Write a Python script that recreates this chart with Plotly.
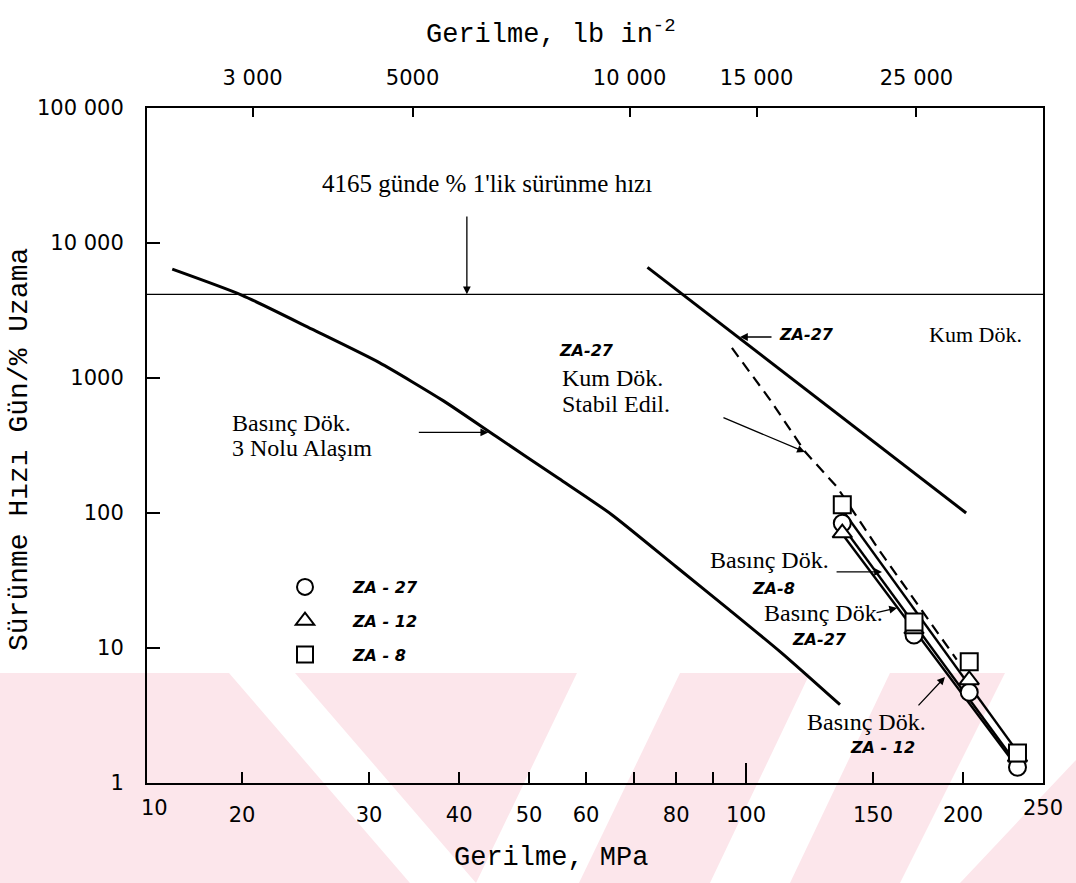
import numpy as np
import plotly.graph_objects as go

# ---- axis limits -------------------------------------------------------
X_MIN, X_MAX = 14.76, 258.2          # stress, MPa (log axis)
Y_MIN, Y_MAX = 1, 100000             # creep rate, days per % elongation
PSI_PER_MPA = 145.038
RATE_1PCT = 4165                     # 1 % creep in 4165 days

# ---- die-cast No.3 alloy ----------------------------------------------
no3_stress = [16, 20, 25, 31, 38, 45, 55, 65, 80, 95, 112, 135]
no3_rate = [6400, 4100, 2300, 1300, 680, 370, 180, 98, 40, 19, 9.2, 3.8]

# ---- sand-cast ZA-27 ---------------------------------------------------
sand_stress = [73, 202]
sand_rate = [6600, 100]

# ---- sand-cast ZA-27, stabilised (dashed) ------------------------------
stab_stress = [95.6, 108, 120.7, 133.7, 153, 196]
stab_rate = [1670, 690, 285, 156, 53, 8.2]

# ---- die-cast ZA alloys: measured points -------------------------------
pt_stress = [136, 171, 204, 238]
za27_rate = [84, 12.5, 4.7, 1.31]
za12_rate = [71, 13.8, 5.8, 1.56]
za8_rate = [115, 15.6, 7.9, 1.67]

# ---- die-cast ZA alloys: fitted lines ----------------------------------
za8_fit_stress, za8_fit_rate = [137, 238], [100, 1.7]
za27_fit_stress, za27_fit_rate = [136, 236], [80, 1.45]
za12_fit_stress, za12_fit_rate = [136, 238], [70, 1.3]

# ---- tick labels -------------------------------------------------------
mpa_ticks = [20, 30, 40, 50, 60, 80, 100, 150, 200]
mpa_text = ["20", "30", "40", "50", "60", "80", "100", "150", "200"]
mpa_unlabelled = [70, 90]
mpa_long = [100]
psi_ticks = [3000, 5000, 10000, 15000, 25000]
psi_text = ["3 000", "5000", "10 000", "15 000", "25 000"]
rate_ticks = [1, 10, 100, 1000, 10000, 100000]
rate_text = ["1", "10", "100", "1000", "10 000", "100 000"]

W, H = 1076, 883
ML, MR, MT, MB = 147, 33, 108, 100
PW, PH = W - ML - MR, H - MT - MB

SERIF = "Liberation Serif"
MONO = "Liberation Mono"
SANS = "DejaVu Sans"


def lg(v):
    return float(np.log10(v))


def paper(px, py):
    return (px - ML) / PW, (H - MB - py) / PH


fig = go.Figure()

# curves
line_kw = dict(mode="lines", showlegend=False, hoverinfo="skip")
fig.add_trace(go.Scatter(x=no3_stress, y=no3_rate,
                         line=dict(color="black", width=3, shape="spline", smoothing=0.6), **line_kw))
# sand-cast line sits on the unlabelled tick axis (same MPa scale)
fig.add_trace(go.Scatter(x=sand_stress, y=sand_rate, xaxis="x3",
                         line=dict(color="black", width=3), **line_kw))
fig.add_trace(go.Scatter(x=stab_stress, y=stab_rate,
                         line=dict(color="black", width=2.2, dash="11px,7px"), **line_kw))
for fx, fy in [(za8_fit_stress, za8_fit_rate), (za27_fit_stress, za27_fit_rate),
               (za12_fit_stress, za12_fit_rate)]:
    fig.add_trace(go.Scatter(x=fx, y=fy, line=dict(color="black", width=2.4), **line_kw))

# 1 % in 4165 days reference line, drawn on the lb/in^2 axis
fig.add_trace(go.Scatter(x=[X_MIN * PSI_PER_MPA, X_MAX * PSI_PER_MPA], y=[RATE_1PCT, RATE_1PCT],
                         xaxis="x2", mode="lines", line=dict(color="black", width=1.3),
                         showlegend=False, hoverinfo="skip"))

# measured points
for name, rates, sym in [("ZA - 27", za27_rate, "circle"),
                         ("ZA - 12", za12_rate, "triangle-up"),
                         ("ZA - 8", za8_rate, "square")]:
    fig.add_trace(go.Scatter(x=pt_stress, y=rates, mode="markers", name=name, legendgroup=name,
                             marker=dict(symbol=sym, size=17, color="white",
                                         line=dict(color="black", width=2)),
                             hoverinfo="skip"))

ann = []


def text(x, y, s, size=24, family=SERIF, style="normal", weight="normal", xanchor="left"):
    ann.append(dict(x=lg(x), y=lg(y), xref="x", yref="y", text=s, showarrow=False,
                    xanchor=xanchor, yanchor="middle", align="left",
                    font=dict(family=family, size=size, color="black", style=style, weight=weight)))


def arrow(x0, y0, x1, y1):
    ann.append(dict(x=lg(x1), y=lg(y1), ax=lg(x0), ay=lg(y0), xref="x", yref="y",
                    axref="x", ayref="y", text="", showarrow=True, arrowhead=2,
                    arrowsize=1.2, arrowwidth=1.3, arrowcolor="black", standoff=0))


ital = dict(family=SANS, size=16, style="italic", weight="bold")

text(43.7, 27800, "4165 günde % 1'lik sürünme hızı", size=25, xanchor="center")
arrow(41.0, 16100, 41.0, RATE_1PCT)

text(19.25, 464, "Basınç Dök.")
text(19.25, 303, "3 Nolu Alaşım")
arrow(35.0, 395, 43.9, 395)

text(110.4, 2083, "ZA-27", **ital)
text(178.3, 2083, "Kum Dök.", size=22)
arrow(109, 2012, 98.1, 2012)

text(54.7, 1612, "ZA-27", **ital)
text(55.2, 1000, "Kum Dök.")
text(55.2, 642, "Stabil Edil.")
arrow(92.6, 514, 120.7, 283)

text(88.6, 44.8, "Basınç Dök.")
text(101.3, 27.8, "ZA-8", **ital)
arrow(132.9, 36.6, 154.4, 36.6)

text(105.2, 18.2, "Basınç Dök.")
text(115.1, 11.5, "ZA-27", **ital)
arrow(151, 18.2, 162, 19.8)

text(120.7, 2.83, "Basınç Dök.")
text(138.5, 1.82, "ZA - 12", **ital)
arrow(172.7, 3.66, 188.8, 6.1)

# corner labels of the MPa axis
tick_font = dict(family=SANS, size=21, color="black")
for xd, s, dx in [(0, "10", 7), (1, "250", 0)]:
    ann.append(dict(x=xd, y=0, xref="x domain", yref="y domain", yshift=-25, xshift=dx, text=s,
                    showarrow=False, xanchor="center", yanchor="middle", font=tick_font))

# axis titles
tx, _ = paper(551, 0)
ann.append(dict(x=tx, y=paper(0, 33)[1], xref="paper", yref="paper", showarrow=False,
                xanchor="center", yanchor="middle",
                text="Gerilme, lb in<sup>-2</sup>", font=dict(family=MONO, size=27, color="black")))
ann.append(dict(x=tx, y=paper(0, 858)[1], xref="paper", yref="paper", showarrow=False,
                xanchor="center", yanchor="middle",
                text="Gerilme, MPa", font=dict(family=MONO, size=27, color="black")))
ann.append(dict(x=paper(20, 0)[0], y=paper(0, 450)[1], xref="paper", yref="paper", showarrow=False,
                xanchor="center", yanchor="middle",
                text="Sürünme Hızı Gün/% Uzama", textangle=-90,
                font=dict(family=MONO, size=28, color="black")))

# pale diagonal watermark along the bottom
PINK = "#fce6eb"
shapes = []


def poly(pts, color):
    p = [paper(a, b) for a, b in pts]
    path = "M " + " L ".join(f"{u:.4f},{v:.4f}" for u, v in p) + " Z"
    shapes.append(dict(type="path", path=path, xref="paper", yref="paper",
                       fillcolor=color, line=dict(width=0), layer="below"))


poly([(0, 673), (W, 673), (W, H), (0, H)], PINK)
poly([(229, 673), (295, 673), (476, H), (410, H)], "white")
poly([(577, 673), (680, 673), (579, H), (476, H)], "white")
poly([(810, 673), (890, 673), (790, H), (710, H)], "white")
poly([(1005, 673), (W, 673), (W, 760), (960, H), (900, H)], "white")

axis_common = dict(showline=True, linecolor="black", linewidth=2, showgrid=False,
                   zeroline=False, ticks="inside", tickcolor="black", tickwidth=1.5,
                   tickfont=tick_font)

fig.update_layout(
    width=W, height=H,
    margin=dict(l=ML, r=MR, t=MT, b=MB, pad=0),
    paper_bgcolor="white", plot_bgcolor="rgba(0,0,0,0)",
    hovermode=False,
    xaxis=dict(type="log", range=[lg(X_MIN), lg(X_MAX)], tickmode="array",
               tickvals=mpa_ticks, ticktext=mpa_text, ticklen=11, mirror=True,
               ticklabelstandoff=12, **axis_common),
    # unlabelled MPa ticks (70, 90) and the longer 100 tick
    xaxis3=dict(type="log", overlaying="x", side="bottom", anchor="y",
                range=[lg(X_MIN), lg(X_MAX)], tickmode="array", tickvals=mpa_long,
                ticklen=20, showticklabels=False, showline=False, showgrid=False,
                zeroline=False, ticks="inside", tickcolor="black", tickwidth=1.5,
                minor=dict(tickmode="array", tickvals=mpa_unlabelled, ticks="inside",
                           ticklen=11, tickcolor="black", tickwidth=1.5, showgrid=False)),
    xaxis2=dict(type="log", overlaying="x", side="top", anchor="y",
                range=[lg(X_MIN * PSI_PER_MPA), lg(X_MAX * PSI_PER_MPA)],
                tickmode="array", tickvals=psi_ticks, ticktext=psi_text, ticklen=9,
                ticklabelstandoff=13, **axis_common),
    yaxis=dict(type="log", range=[lg(Y_MIN), lg(Y_MAX)], tickmode="array",
               tickvals=rate_ticks, ticktext=rate_text, ticklen=13, mirror=True,
               ticklabelstandoff=17, **axis_common),
    legend=dict(x=paper(257, 0)[0], y=paper(0, 570)[1], xanchor="left", yanchor="top",
                bgcolor="rgba(0,0,0,0)", borderwidth=0, tracegroupgap=10, itemwidth=86,
                font=dict(family=SANS, size=16, color="black", style="italic", weight="bold")),
    annotations=ann,
    shapes=shapes,
)

fig.write_html("out.html")
